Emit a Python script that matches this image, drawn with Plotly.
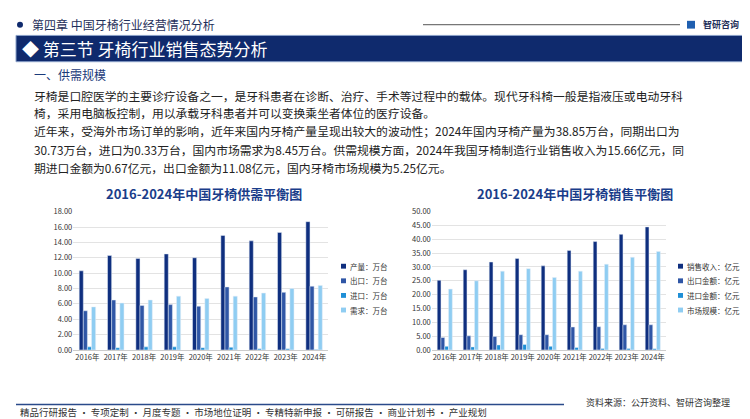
import plotly.graph_objects as go

years = ["2016年", "2017年", "2018年", "2019年", "2020年", "2021年", "2022年", "2023年", "2024年"]

# 供需平衡 (万台)
output = [10.3, 12.3, 11.9, 12.5, 12.0, 14.9, 14.2, 15.3, 16.7]
export_qty = [5.1, 6.5, 5.8, 5.9, 5.7, 8.2, 6.9, 7.5, 8.3]
import_qty = [0.4, 0.3, 0.4, 0.4, 0.3, 0.35, 0.15, 0.15, 0.05]
demand = [5.6, 6.1, 6.5, 7.0, 6.7, 7.0, 7.4, 8.0, 8.4]

# 销售平衡 (亿元)
revenue = [25.2, 29.0, 31.8, 33.1, 30.4, 36.0, 39.2, 41.8, 44.5]
export_amt = [4.5, 5.1, 4.9, 5.5, 5.5, 8.3, 8.4, 9.1, 9.1]
import_amt = [1.3, 1.1, 1.8, 2.0, 1.3, 0.9, 0.5, 0.5, 0.4]
market = [22.0, 25.0, 28.5, 29.4, 26.2, 28.5, 31.0, 33.5, 35.6]

left_names = ["产量：万台", "出口：万台", "进口：万台", "需求：万台"]
right_names = ["销售收入：亿元", "出口金额：亿元", "进口金额：亿元", "市场规模：亿元"]

colors = ["#0f2f7f", "#2f56a6", "#1f8fd6", "#8fcdf2"]
W, H = 750, 419


def py(p):
    return 1 - p / H


fig = go.Figure()

for name, vals, c in zip(left_names, [output, export_qty, import_qty, demand], colors):
    fig.add_trace(go.Bar(x=years, y=vals, name=name, marker_color=c, xaxis="x", yaxis="y"))
for name, vals, c in zip(right_names, [revenue, export_amt, import_amt, market], colors):
    fig.add_trace(go.Bar(x=years, y=vals, name=name, marker_color=c, xaxis="x2", yaxis="y2"))

axfont = dict(size=7.5, color="#333", family="Noto Sans CJK SC")
fig.update_layout(
    width=W, height=H, margin=dict(l=0, r=0, t=0, b=0),
    paper_bgcolor="white", plot_bgcolor="white",
    font=dict(family="Noto Sans CJK SC"),
    barmode="group", bargap=0.42, bargroupgap=0, showlegend=False,
    xaxis=dict(domain=[0.087, 0.427], anchor="y", tickfont=axfont, tickangle=0,
               showline=True, linecolor="#ccc"),
    yaxis=dict(domain=[py(345), py(203)], range=[0, 18], dtick=2, tickformat=".2f",
               gridcolor="#e3e3e3", tickfont=axfont, anchor="x"),
    xaxis2=dict(domain=[0.565, 0.877], anchor="y2", tickfont=axfont, tickangle=0,
                showline=True, linecolor="#ccc"),
    yaxis2=dict(domain=[py(345), py(203)], range=[0, 50], dtick=5, tickformat=".2f",
                gridcolor="#e3e3e3", tickfont=axfont, anchor="x2"),
)

shapes = [
    dict(type="line", x0=415, x1=672, y0=py(11), y1=py(11), line=dict(color="#555", width=1)),
    dict(type="rect", x0=8, x1=742, y0=py(49), y1=py(22), fillcolor="#0f2a6d", line=dict(color="#8aa0c8", width=1)),
    dict(type="line", x0=8, x1=556, y0=py(401), y1=py(401), line=dict(color="#2a4a8a", width=1.5)),
    dict(type="circle", x0=9, x1=15, y0=py(14), y1=py(8), fillcolor="#0f2a6d", line=dict(width=0)),
    dict(type="rect", x0=679, x1=687, y0=py(15), y1=py(7), fillcolor="#1f5fb0", line=dict(width=0)),
]


def txt(x, y, t, size, color="#222", xanchor="left", bold=False):
    if bold:
        t = "<b>" + t + "</b>"
    fig.add_annotation(x=x / W, y=py(y), xref="paper", yref="paper", text=t, showarrow=False,
                       xanchor=xanchor, yanchor="middle", font=dict(size=size, color=color, family="Noto Sans CJK SC"))


# custom legends (small squares)
for lx, names in [(333, left_names), (670, right_names)]:
    for i, (n, c) in enumerate(zip(names, colors)):
        ly = 259 + i * 15
        shapes.append(dict(type="rect", x0=lx, x1=lx + 5, y0=py(ly + 2.5), y1=py(ly - 2.5),
                           fillcolor=c, line=dict(width=0)))
        txt(lx + 7, ly, n, 7.5, "#333")

for s in shapes:
    s["xref"] = "paper"
    s["yref"] = "paper"
    s["x0"] = s["x0"] / W
    s["x1"] = s["x1"] / W
fig.update_layout(shapes=shapes)

txt(22, 11, "第四章 中国牙椅行业经营情况分析", 12, "#1f2f5a")
txt(693, 11, "智研咨询", 9, "#1f2f5a", bold=True)
txt(12, 35, "◆ 第三节 牙椅行业销售态势分析", 17, "white")
txt(24, 62, "一、供需规模", 12, "#1a3a7a")

para = [
    (84, "牙椅是口腔医学的主要诊疗设备之一，是牙科患者在诊断、治疗、手术等过程中的载体。现代牙科椅一般是指液压或电动牙科"),
    (101, "椅，采用电脑板控制，用以承载牙科患者并可以变换乘坐者体位的医疗设备。"),
    (120, "近年来，受海外市场订单的影响，近年来国内牙椅产量呈现出较大的波动性；2024年国内牙椅产量为38.85万台，同期出口为"),
    (139, "30.73万台，进口为0.33万台，国内市场需求为8.45万台。供需规模方面，2024年我国牙椅制造行业销售收入为15.66亿元，同"),
    (158, "期进口金额为0.67亿元，出口金额为11.08亿元，国内牙椅市场规模为5.25亿元。"),
]
for y, t in para:
    txt(24, y, t, 11.8, "#222")

txt(196, 184, "2016-2024年中国牙椅供需平衡图", 13, "#1a3d8a", "center", True)
txt(567, 184, "2016-2024年中国牙椅销售平衡图", 13, "#1a3d8a", "center", True)

txt(576, 399, "资料来源：公开资料、智研咨询整理", 9, "#333")
txt(10, 409, "精品行研报告 • 专项定制 • 月度专题 • 市场地位证明 • 专精特新申报 • 可研报告 • 商业计划书 • 产业规划", 9.5, "#333")

fig.write_html("out.html")
